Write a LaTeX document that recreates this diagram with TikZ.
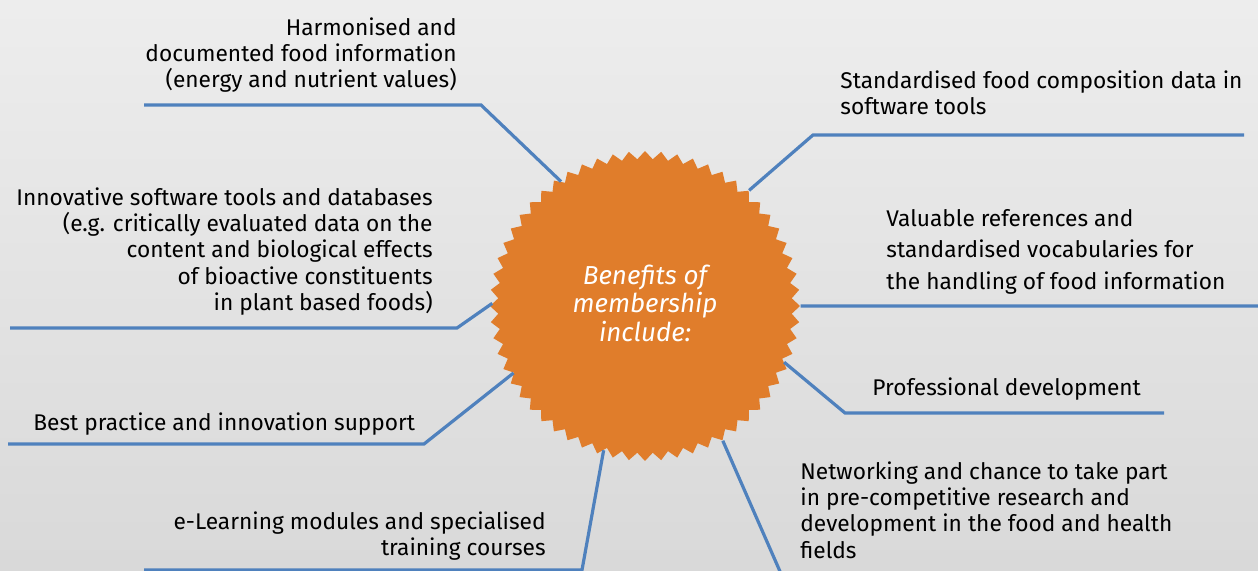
\documentclass[tikz,border=0pt]{standalone}
\usepackage{fontspec}
\setmainfont{Fira Sans}
\usetikzlibrary{shapes.geometric,positioning}
\definecolor{linkblue}{HTML}{4F81BD}
\definecolor{badgeorange}{HTML}{E07D2B}

\begin{document}
\begin{tikzpicture}[x=0.5pt,y=-0.5pt]
	\tikzstyle{Badge}	= [star, star points=60, star point ratio=1.055, minimum size=155pt, inner sep=0pt, fill=badgeorange, text=white, align=center, font=\itshape\fontsize{13}{14.25}\selectfont]
	\tikzstyle{Link}	= [linkblue, line width=1.6pt]
	\tikzstyle{LeftNote}	= [anchor=north east, align=right, inner sep=0pt, font=\fontsize{11.35}{13.2}\selectfont]
	\tikzstyle{RightNote}	= [anchor=north west, align=left, inner sep=0pt, font=\fontsize{11.35}{13.2}\selectfont]

	% background
	\useasboundingbox (0,0) rectangle (1258,571);
	\shade[top color=black!7, bottom color=black!15] (0,0) rectangle (1258,571);

	\node (hub) at (645,306) [Badge] {Benefits of\\membership\\include:\\[-11.25pt]};

	% elbows and free ends
	\coordinate (k1) at (481,105);	\coordinate (e1) at (144,105);
	\coordinate (k2) at (813,135);	\coordinate (e2) at (1244,135);
	\coordinate (k3) at (457,328);	\coordinate (e3) at (10,328);
	\coordinate (e4) at (1258,306);
	\coordinate (k5) at (424,444);	\coordinate (e5) at (8,444);
	\coordinate (k6) at (845,413);	\coordinate (e6) at (1164,413);
	\coordinate (k7) at (582,570);	\coordinate (e7) at (144,570);
	\coordinate (e8) at (782,576);

	\draw [Link] (hub.124) -- (k1) -- (e1);
	\draw [Link] (hub.48) -- (k2) -- (e2);
	\draw [Link] (hub.179) -- (k3) -- (e3);
	\draw [Link] (hub.0) -- (e4);
	\draw [Link] (hub.207) -- (k5) -- (e5);
	\draw [Link] (hub.338) -- (k6) -- (e6);
	\draw [Link] (hub.254) -- (k7) -- (e7);
	\draw [Link] (hub.300) -- (e8);

	\node (n1) at (457,17) [LeftNote] {Harmonised and\\documented food information\\(energy and nutrient values)};
	\node (n2) at (840,70) [RightNote] {Standardised food composition data in\\software tools};
	\node (n3) at (433,187) [LeftNote] {Innovative software tools and databases\\(e.g. critically evaluated data on the\\content and biological effects\\of bioactive constituents\\in plant based foods)};
	\node (n4) at (886,209) [RightNote, font=\fontsize{11.35}{15.7}\selectfont] {Valuable references and\\standardised vocabularies for\\the handling of food information};
	\node (n5) at (872,377) [RightNote] {Professional development};
	\node (n6) at (33,412) [RightNote] {Best practice and innovation support};
	\node (n7) at (546,511) [LeftNote] {e-Learning modules and specialised\\training courses};
	\node (n8) at (800,461) [RightNote] {Networking and chance to take part\\in pre-competitive research and\\development in the food and health\\fields};
\end{tikzpicture}
\end{document}
